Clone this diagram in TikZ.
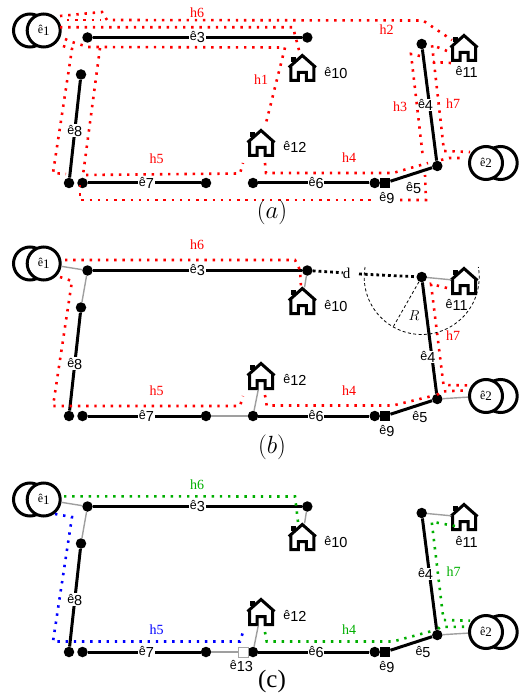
\documentclass[tikz,border=0pt]{standalone}
\usepackage{fontspec}
\setmainfont{Liberation Serif}
\setsansfont{Liberation Sans}
\definecolor{dred}{RGB}{255,0,0}
\definecolor{dgreen}{RGB}{0,175,0}
\definecolor{dblue}{RGB}{0,0,255}
\tikzset{
  junction/.style={circle,fill=black,draw=none,inner sep=0pt,minimum size=10.5pt},
  squarenode/.style={rectangle,fill=black,draw=none,inner sep=0pt,minimum size=10.5pt},
  whitesquare/.style={rectangle,fill=white,draw=gray!70,line width=0.8pt,inner sep=0pt,minimum size=10pt},
  sourcering/.style={circle,draw=black,fill=white,line width=3pt,inner sep=0pt,minimum size=33pt},
  housebox/.style={rectangle,inner sep=0pt,minimum width=25pt,minimum height=27pt},
  houseline/.style={draw=black,line width=3pt,line join=miter},
  bold/.style={draw=black,line width=3pt},
  thinlink/.style={draw=gray!75,line width=1.4pt},
  edgelab/.style={fill=white,inner sep=0.6pt,text=black},
  plainlab/.style={inner sep=0pt,text=black},
  hlab/.style={inner sep=0pt,font=\fontsize{14}{14}\selectfont},
  route/.style={line width=2.6pt,line cap=butt,dash pattern=on 2.4pt off 5.8pt},
  blackroute/.style={line width=2.8pt,line cap=butt,dash pattern=on 2.8pt off 3pt,draw=black},
  caption/.style={inner sep=0pt,font=\fontsize{25}{25}\selectfont},
  radius line/.style={draw=black,line width=0.8pt,dash pattern=on 3pt off 2.4pt},
}
\newcommand{\elab}[1]{{\sffamily\fontsize{12.5}{14}\selectfont ê\raisebox{-2pt}{\fontsize{14.5}{14}\selectfont #1}}}
\newcommand{\slab}[1]{{\rmfamily\fontsize{12}{14}\selectfont ê\raisebox{-1.5pt}{\fontsize{13}{14}\selectfont #1}}}
\newcommand{\housenode}[2]{%
  \node[housebox] (#1) at (#2) {};
  \draw[houseline,shift={(#2)}] (-13.5,-0.5) -- (0,-12.5) -- (13.5,-0.5) (-11.5,-2.5) -- (-11.5,12.5) -- (-4,12.5) -- (-4,4.5) -- (4,4.5) -- (4,12.5) -- (11.5,12.5) -- (11.5,-2.5);
  \fill[shift={(#2)}] (-11,-11) rectangle (-6,-6);
}
% common network; #1 e5 label position, #2 e4 label position along edge, #3 e11 label position
\newcommand{\network}[3]{%
  \node[sourcering] (s1b) at (30,30.5) {};
  \node[sourcering] (s1) at (43.7,30.5) {\slab{1}};
  \node[sourcering] (s2b) at (500.7,163) {};
  \node[sourcering] (s2) at (486,163) {\slab{2}};
  \node[junction] (n1) at (87.5,37.5) {};
  \node[junction] (n10) at (307.3,37.5) {};
  \node[junction] (n8t) at (81,74.5) {};
  \node[junction] (n8b) at (69,183) {};
  \node[junction] (n7l) at (82.5,183) {};
  \node[junction] (n7r) at (206,183) {};
  \node[junction] (n6l) at (253,183) {};
  \node[junction] (n6r) at (374.7,183) {};
  \node[squarenode] (q9) at (385,183) {};
  \node[junction] (n5) at (437.3,166) {};
  \node[junction] (n4t) at (421.7,44) {};
  \housenode{h10}{302.3,68}
  \housenode{h12}{261,143}
  \housenode{h11}{464,48}
  \draw[bold] (n1) -- node[edgelab] (l3) {\elab{3}} (n10);
  \draw[bold] (n8t) -- node[edgelab,pos=0.52] (l8) {\elab{8}} (n8b);
  \draw[bold] (n7l) -- node[edgelab,pos=0.52] (l7) {\elab{7}} (n7r);
  \draw[bold] (n6l) -- node[edgelab,pos=0.52] (l6) {\elab{6}} (n6r);
  \draw[bold] (n4t) -- node[edgelab,pos=#2,xshift=-4pt] (l4) {\elab{4}} (n5);
  \draw[bold] (q9) -- (n5);
  \node[plainlab] (l5) at (#1) {\elab{5}};
  \node[plainlab] (l9) at (387,198) {\elab{9}};
  \node[plainlab] (l10) at (336,72.7) {\elab{10}};
  \node[plainlab] (l11) at (#3) {\elab{11}};
  \node[plainlab] (l12) at (295,147) {\elab{12}};
}
\begin{document}
\begin{tikzpicture}[x=1pt,y=-1pt]
\useasboundingbox (0,0) rectangle (527,700);
% panel a
\begin{scope}[name prefix=a-]
  \network{413.7,188}{0.5}{466.7,72}
  \draw[route,dred] (60,16) -- (102,12) -- (107,20) -- (423,20.5) -- (452,40);
  \draw[route,dred] (60,27.3) -- (293,27.3) -- (300,54);
  \draw[route,dred] (67,20) -- (101,20);
  \draw[route,dred] (65,39) -- (72,42) -- (88,47) -- (285,47.5) -- (265,127);
  \draw[route,dred] (63,46) -- (72,49) -- (53,173) -- (66,174);
  \draw[route,dred] (100,48) -- (83,175) -- (240,173.5) -- (243,163);
  \draw[route,dred] (80,185) -- (80,200) -- (372,200);
  \draw[route,dred] (400,200) -- (426,200) -- (425,175);
  \draw[route,dred] (265,163) -- (266,173) -- (393,173) -- (428,163);
  \draw[route,dred] (420,56) -- (411,54) -- (423,158);
  \draw[route,dred] (447,51) -- (432,45) -- (444,151) -- (470,152);
  \draw[route,dred] (451,63) -- (433,62);
  \draw[route,dred] (441,160) -- (449,158) -- (465,158);
  \node[hlab,dred] (a6) at (197,12.5) {h6};
  \node[hlab,dred] (a1) at (261,80) {h1};
  \node[hlab,dred] (a2) at (386.7,30) {h2};
  \node[hlab,dred] (a3) at (400,107) {h3};
  \node[hlab,dred] (a4) at (349,158) {h4};
  \node[hlab,dred] (a5) at (156.7,158.7) {h5};
  \node[hlab,dred] (a7) at (453,104) {h7};
  \node[caption] (cap) at (272,212) {$(a)$};
\end{scope}
% panel b
\begin{scope}[shift={(0,233)},name prefix=b-]
  \network{420,184}{0.67}{456.7,72}
  \draw[thinlink] (s1) -- (n1);
  \draw[thinlink] (n1) -- (n8t);
  \draw[thinlink] (n7r) -- (n6l);
  \draw[thinlink] (n6l) -- (h12);
  \draw[thinlink] (n10) -- (h10);
  \draw[thinlink] (n4t) -- (h11);
  \draw[thinlink] (n5) -- (s2);
  \draw[route,dred] (65,27) -- (295,27) -- (300,37) -- (301,54);
  \draw[route,dred] (60,44) -- (72,48) -- (53,173) -- (240,173) -- (243,163);
  \draw[route,dred] (265,162) -- (266.7,172.5) -- (393,172.5) -- (432,163);
  \draw[route,dred] (447,55) -- (431,51) -- (443.5,152) -- (470,152.5);
  \draw[route,dred] (437,162) -- (441.5,158.5) -- (463,157.5);
  \node[hlab,dred] (a6) at (197,12) {h6};
  \node[hlab,dred] (a5) at (156.7,158) {h5};
  \node[hlab,dred] (a4) at (349,158) {h4};
  \node[hlab,dred] (a7) at (453,103) {h7};
  \node[inner sep=0pt,font=\fontsize{15}{15}\selectfont] (dl) at (346.7,40) {d};
  \node[inner sep=0pt,font=\fontsize{15}{15}\selectfont] (rl) at (414,83) {$R$};
  \coordinate (dr) at (359,41);
  \draw[blackroute] (n10) -- (dl);
  \draw[blackroute] (dr) -- (n4t);
  \coordinate (rim) at (392.7,94.7);
  \draw[radius line] (n4t) -- (rim);
  \draw[radius line] plot[smooth,domain=190:-10,samples=50] ({421.7+57.5*cos(\x)},{44+57.5*sin(\x)});
  \node[caption] (cap) at (272,214) {$(b)$};
\end{scope}
% panel c
\begin{scope}[shift={(0,469)},name prefix=c-]
  \network{423,183}{0.5}{466.7,72.7}
  \node[whitesquare] (q13) at (243.3,183) {};
  \draw[thinlink] (s1) -- (n1);
  \draw[thinlink] (n1) -- (n8t);
  \draw[thinlink] (n7r) -- (q13);
  \draw[thinlink] (q13) -- (n6l);
  \draw[thinlink] (n6l) -- (h12);
  \draw[thinlink] (n10) -- (h10);
  \draw[thinlink] (n4t) -- (h11);
  \draw[thinlink] (n5) -- (s2);
  \node[plainlab] (l13) at (241.5,197) {\elab{13}};
  \draw[route,dgreen] (64,27.3) -- (295,27.5) -- (298,53);
  \draw[route,dblue] (55,45) -- (72,48) -- (53,172.5) -- (240,172.5) -- (243,163);
  \draw[route,dgreen] (265,163) -- (266.7,172.5) -- (393,172.5) -- (432,162);
  \draw[route,dgreen] (455,57) -- (431.7,52.7) -- (443.5,151) -- (470,151.7);
  \draw[route,dgreen] (438,160) -- (440,158) -- (465,157.7);
  \node[hlab,dgreen] (a6) at (197,16) {h6};
  \node[hlab,dblue] (a5) at (156.7,161) {h5};
  \node[hlab,dgreen] (a4) at (349,161) {h4};
  \node[hlab,dgreen] (a7) at (453.7,103) {h7};
  \node[caption] (cap) at (272,212.5) {(c)};
\end{scope}
\end{tikzpicture}
\end{document}
